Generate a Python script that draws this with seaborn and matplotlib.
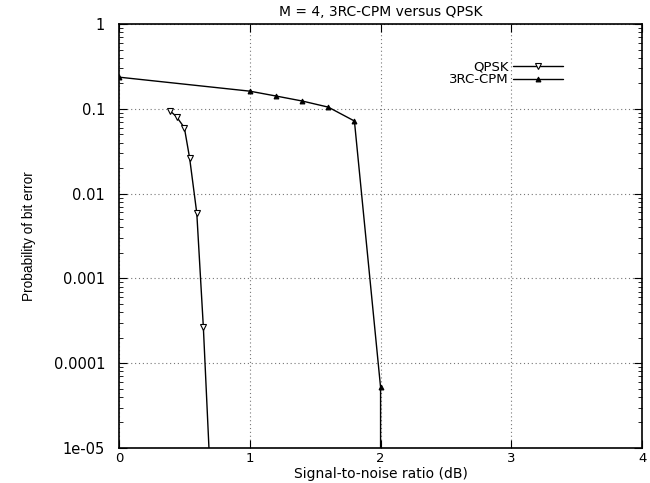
import matplotlib
matplotlib.use("Agg")
import matplotlib.pyplot as plt
import matplotlib.ticker as mticker
import seaborn as sns
import pandas as pd

# Data
qpsk_snr = [0.39, 0.44, 0.50, 0.54, 0.595, 0.645, 0.70]
qpsk_ber = [0.095, 0.081, 0.060, 0.0265, 0.0059, 0.00027, 4.0e-6]

cpm_snr = [0.0, 1.0, 1.2, 1.4, 1.6, 1.8, 2.0, 2.0]
cpm_ber = [0.237, 0.162, 0.142, 0.124, 0.105, 0.072, 5.2e-5, 1e-8]

x_ticks = [0, 1, 2, 3, 4]
y_ticks = [1, 0.1, 0.01, 0.001, 0.0001, 1e-05]
y_tick_labels = ["1", "0.1", "0.01", "0.001", "0.0001", "1e-05"]

title = "M = 4, 3RC-CPM versus QPSK"
xlabel = "Signal-to-noise ratio (dB)"
ylabel = "Probability of bit error"

sns.set_style("ticks")
plt.rcParams["font.family"] = ["DejaVu Sans"]
plt.rcParams.update({"text.color": "black", "axes.labelcolor": "black",
                     "xtick.color": "black", "ytick.color": "black"})

fig = plt.figure(figsize=(6.5, 4.83), dpi=100)
ax = fig.add_axes([0.183, 0.0725, 0.805, 0.8775])

qdf = pd.DataFrame({"snr": qpsk_snr, "ber": qpsk_ber})
cdf = pd.DataFrame({"snr": cpm_snr, "ber": cpm_ber})

sns.lineplot(data=qdf, x="snr", y="ber", ax=ax, estimator=None, sort=False,
             color="black", linewidth=1.0, marker="v", markersize=5,
             markerfacecolor="white", markeredgecolor="black",
             markeredgewidth=0.8, label="QPSK")
sns.lineplot(data=cdf, x="snr", y="ber", ax=ax, estimator=None, sort=False,
             color="black", linewidth=1.0, marker="^", markersize=3.5,
             markerfacecolor="black", markeredgecolor="black",
             label="3RC-CPM")

ax.set_yscale("log")
ax.set_xlim(0, 4)
ax.set_ylim(1e-5, 1)
ax.set_xticks(x_ticks)
ax.set_xticklabels([str(t) for t in x_ticks])
ax.set_yticks(y_ticks)
ax.set_yticklabels(y_tick_labels)
ax.yaxis.set_minor_locator(mticker.LogLocator(base=10, subs=range(2, 10)))
ax.yaxis.set_minor_formatter(mticker.NullFormatter())

ax.tick_params(axis="both", which="both", direction="in", top=True, right=True,
               color="black", labelcolor="black")
ax.tick_params(axis="both", which="major", length=6, width=0.8)
ax.tick_params(axis="x", which="major", pad=3, labelsize=9.5)
ax.tick_params(axis="y", which="major", pad=10, labelsize=10.5)
ax.tick_params(axis="y", which="minor", length=3, width=0.6)

ax.grid(True, which="major", linestyle=(0, (1, 2.5)), color="#777777", linewidth=0.8)
for s in ax.spines.values():
    s.set_linewidth(1.2)
    s.set_color("black")

ax.set_title(title, fontsize=10, pad=6)
ax.set_xlabel(xlabel, fontsize=10)
ax.xaxis.set_label_coords(0.5, -0.045)
ax.set_ylabel(ylabel, fontsize=9.8, family="Liberation Sans")
ax.yaxis.set_label_coords(-0.159, 0.5)

leg = ax.legend(loc="upper right", bbox_to_anchor=(0.849, 0.915), frameon=False,
                markerfirst=False, handlelength=3.8, fontsize=9.5,
                labelspacing=0.0, handletextpad=0.36, borderpad=0,
                borderaxespad=0)
for t in leg.get_texts():
    t.set_ha("right")

fig.savefig("out.png", dpi=100)
